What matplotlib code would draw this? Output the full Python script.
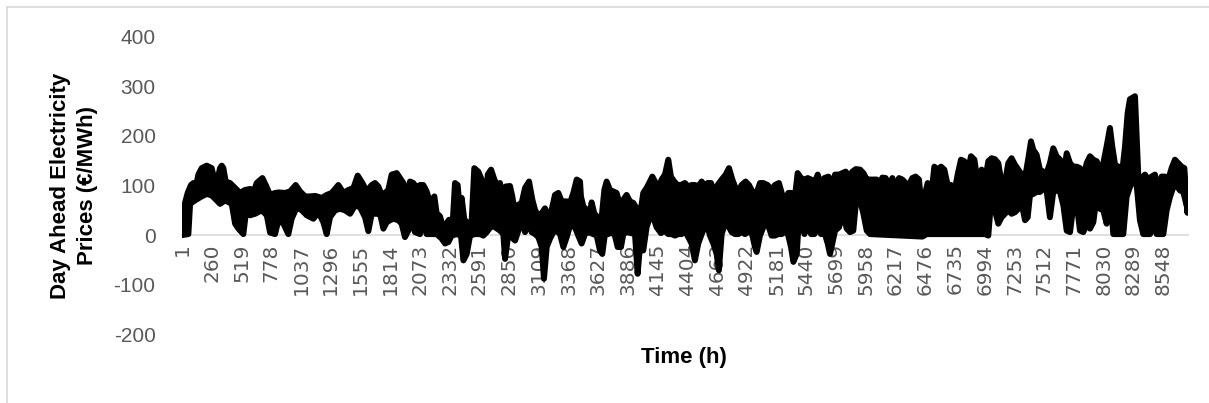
import matplotlib
matplotlib.use("Agg")
import matplotlib.pyplot as plt
from matplotlib.lines import Line2D
import numpy as np

# Hourly day-ahead prices drawn as the black band they form at this scale:
# upper envelope (peaks) and lower envelope (troughs).
peak_hours = [1, 27, 50, 79, 100, 120, 143, 172, 216, 259, 283, 303, 332, 347, 361, 381, 419,
              463, 506, 550, 593, 631, 651, 701, 730, 768, 811, 846, 898, 942, 991, 1029, 1073,
              1116, 1160, 1218, 1261, 1305, 1363, 1407, 1450, 1494, 1531, 1572, 1610, 1653, 1682,
              1711, 1740, 1769, 1798, 1827, 1871, 1900, 1929, 1958, 1987, 2016, 2045, 2074, 2103,
              2132, 2161, 2199, 2219, 2248, 2277, 2306, 2327, 2356, 2379, 2402, 2423, 2437, 2460,
              2495, 2524, 2547, 2582, 2611, 2640, 2664, 2693, 2722, 2742, 2771, 2800, 2820, 2858,
              2878, 2902, 2931, 2960, 2989, 3024, 3053, 3076, 3105, 3134, 3163, 3192, 3221, 3250,
              3279, 3308, 3352, 3381, 3410, 3439, 3468, 3476, 3497, 3526, 3555, 3569, 3592, 3613,
              3633, 3656, 3680, 3700, 3729, 3758, 3787, 3807, 3836, 3874, 3903, 3932, 3961, 3990,
              4019, 4048, 4077, 4098, 4121, 4150, 4179, 4208, 4237, 4260, 4289, 4318, 4347, 4382,
              4411, 4440, 4469, 4498, 4528, 4557, 4580, 4609, 4638, 4667, 4702, 4737, 4766, 4795,
              4818, 4841, 4876, 4911, 4940, 4969, 5007, 5036, 5065, 5102, 5137, 5166, 5201, 5225,
              5254, 5283, 5312, 5341, 5364, 5394, 5423, 5452, 5481, 5510, 5539, 5568, 5597, 5632,
              5661, 5690, 5725, 5754, 5783, 5812, 5841, 5870, 5908, 5937, 5966, 5995, 6024, 6053,
              6082, 6102, 6131, 6160, 6189, 6218, 6247, 6276, 6305, 6334, 6363, 6392, 6421, 6439,
              6468, 6497, 6526, 6555, 6584, 6613, 6642, 6671, 6700, 6729, 6758, 6787, 6816, 6845,
              6874, 6904, 6933, 6967, 6996, 7025, 7054, 7083, 7112, 7141, 7170, 7199, 7228, 7257,
              7287, 7316, 7345, 7374, 7397, 7417, 7446, 7475, 7504, 7533, 7562, 7591, 7620, 7650,
              7679, 7708, 7737, 7766, 7795, 7824, 7853, 7882, 7911, 7940, 7969, 7998, 8027, 8056,
              8085, 8105, 8129, 8158, 8187, 8216, 8239, 8259, 8303, 8332, 8361, 8390, 8419, 8448,
              8477, 8506, 8535, 8564, 8593, 8622, 8651, 8680, 8709, 8733, 8760]
peak_prices = [51, 65, 85, 101, 105, 95, 122, 135, 140, 135, 112, 105, 135, 140, 135, 108, 105,
               95, 85, 91, 93, 91, 105, 115, 101, 81, 85, 86, 85, 88, 101, 88, 78,
               78, 79, 75, 81, 85, 101, 85, 91, 95, 120, 105, 88, 101, 105,
               98, 81, 85, 91, 122, 125, 115, 105, 71, 108, 105, 95, 101, 101,
               88, 65, 78, 44, 38, 14, 24, 31, 14, 105, 101, 44, 75, 31,
               24, 28, 135, 128, 112, 17, 122, 132, 112, 101, 105, 58, 98, 99,
               78, 44, 61, 65, 95, 108, 71, 51, 38, 44, 54, 38, 51, 81,
               85, 68, 68, 65, 85, 112, 108, 78, 58, 51, 44, 66, 44, 38,
               21, 34, 91, 108, 91, 88, 85, 68, 68, 81, 68, 65, 54, 38,
               85, 95, 108, 118, 108, 95, 112, 122, 152, 118, 108, 101, 101, 105,
               98, 101, 101, 98, 108, 98, 105, 105, 85, 101, 112, 122, 135, 112,
               98, 85, 101, 108, 101, 88, 85, 105, 105, 101, 91, 101, 105, 85,
               68, 85, 85, 78, 125, 115, 112, 115, 112, 105, 122, 101, 115, 118,
               101, 122, 122, 125, 128, 118, 128, 133, 132, 125, 112, 112, 112, 112,
               101, 116, 115, 98, 115, 95, 115, 112, 105, 101, 115, 118, 112, 68,
               78, 105, 75, 138, 132, 138, 132, 101, 101, 85, 122, 152, 149, 125,
               159, 152, 105, 132, 108, 149, 155, 153, 145, 105, 105, 145, 155, 142,
               132, 122, 115, 155, 189, 172, 162, 132, 128, 125, 145, 175, 159, 152,
               118, 165, 145, 138, 138, 135, 115, 145, 159, 152, 149, 132, 145, 179,
               216, 179, 142, 138, 118, 179, 246, 274, 280, 118, 115, 122, 112, 118,
               122, 85, 118, 118, 112, 135, 152, 145, 138, 135, 45]

trough_hours = [1, 56, 71, 114, 172, 216, 259, 303, 332, 376, 434, 463, 492, 535, 556, 593, 637,
                695, 739, 768, 811, 840, 884, 927, 956, 1000, 1044, 1087, 1145, 1189, 1232, 1261,
                1290, 1334, 1377, 1421, 1465, 1508, 1552, 1595, 1624, 1653, 1697, 1726, 1755, 1784,
                1813, 1842, 1885, 1914, 1943, 1972, 2001, 2030, 2074, 2103, 2132, 2176, 2219, 2263,
                2292, 2321, 2350, 2393, 2431, 2452, 2481, 2510, 2553, 2597, 2626, 2655, 2698, 2727,
                2771, 2800, 2815, 2844, 2873, 2902, 2931, 2960, 2989, 3018, 3047, 3076, 3105, 3134,
                3154, 3178, 3207, 3236, 3265, 3294, 3323, 3352, 3381, 3424, 3453, 3482, 3511, 3540,
                3584, 3613, 3642, 3662, 3685, 3714, 3743, 3772, 3796, 3825, 3845, 3874, 3912, 3947,
                3970, 3990, 4019, 4048, 4077, 4106, 4135, 4173, 4202, 4237, 4266, 4295, 4324, 4353,
                4382, 4411, 4440, 4469, 4498, 4528, 4571, 4600, 4629, 4658, 4678, 4702, 4731, 4760,
                4789, 4818, 4847, 4876, 4905, 4934, 4963, 4992, 5007, 5036, 5065, 5094, 5137, 5166,
                5195, 5225, 5254, 5283, 5306, 5327, 5356, 5376, 5399, 5423, 5452, 5481, 5510, 5539,
                5568, 5597, 5626, 5646, 5666, 5690, 5725, 5762, 5791, 5820, 5849, 5878, 5908, 5937,
                5966, 5995, 6451, 6488, 6967, 6996, 7025, 7054, 7083, 7112, 7141, 7170, 7199, 7228,
                7257, 7287, 7316, 7345, 7368, 7388, 7417, 7446, 7475, 7504, 7533, 7562, 7591, 7620,
                7650, 7679, 7708, 7737, 7766, 7795, 7824, 7853, 7882, 7911, 7940, 7969, 7998, 8027,
                8056, 8085, 8114, 8143, 8172, 8201, 8230, 8259, 8288, 8317, 8346, 8375, 8404, 8434,
                8463, 8492, 8521, 8550, 8579, 8608, 8637, 8666, 8695, 8724, 8760]
trough_prices = [0, 2, 63, 70, 78, 83, 80, 70, 63, 70, 63, 23, 13, 2, 43, 40, 43,
                 50, 40, 5, 2, 30, 23, 2, 33, 56, 50, 40, 33, 46, 26, 2,
                 36, 50, 53, 50, 43, 60, 56, 36, 8, 43, 43, 43, 13, 26,
                 30, 33, 30, 23, -4, 9, 30, 6, 2, 30, 2, 2, 2, -7,
                 -17, -14, -1, 2, -1, -51, -38, -1, 2, 2, -1, 6, 19, 16,
                 9, 2, -48, 2, -4, -11, 9, 30, 6, 26, 6, 2, -4, -24,
                 -88, -24, -7, 6, 9, 2, -24, -4, 19, 16, -1, -17, 2, 6,
                 2, -1, -31, -38, 2, 2, 6, -1, -24, -24, 2, 6, 4, 2,
                 -78, -24, -31, 16, 36, 36, 16, 4, 9, 2, 2, -1, 2, 2,
                 9, -4, -17, -51, -17, 2, 26, -1, -17, -38, -71, 2, 23, 19,
                 6, 2, 2, 6, 2, 6, 6, -24, -34, -1, 16, 30, -1, -1,
                 2, 2, 9, -1, -24, -54, -38, 36, 43, 2, 30, 2, 2, 16,
                 2, 6, -17, -38, -17, 9, 16, 46, 13, 6, 9, 80, 70, 43,
                 9, 2, -3, 2, 2, 2, -1, 83, 50, 23, 36, 43, 50, 43,
                 46, 53, 63, 30, 36, 80, 83, 87, 87, 93, 90, 36, 87, 90,
                 87, 60, 9, 6, 60, 63, 9, 6, 23, 13, 26, 77, 53, 50,
                 23, 90, 2, 2, 2, 2, 77, 97, 110, 103, 30, 2, 2, 2,
                 23, 2, 2, 2, 50, 77, 97, 100, 90, 87, 53]

tick_hours = list(range(1, 8760, 259))
y_ticks = [-200, -100, 0, 100, 200, 300, 400]

W, H = 1209, 403
fig = plt.figure(figsize=(W / 100, H / 100), dpi=100)
ax = fig.add_axes([182 / W, 68.7 / H, 1005.5 / W, 297.6 / H])

band_x = np.concatenate([peak_hours, trough_hours[::-1]])
band_y = np.concatenate([peak_prices, trough_prices[::-1]])
ax.fill(band_x, band_y, facecolor="black", edgecolor="black", linewidth=4.3,
        joinstyle="round", zorder=3)

# the category axis sits at zero, as in the spreadsheet chart
for side in ["top", "right", "left"]:
    ax.spines[side].set_visible(False)
ax.spines["bottom"].set_position(("data", 0))
ax.spines["bottom"].set_color("#d9d9d9")
ax.spines["bottom"].set_linewidth(1.2)
ax.spines["bottom"].set_zorder(1)

ax.set_xlim(0.5, 8760.5)
ax.set_ylim(-200, 400)
ax.set_yticks(y_ticks)
ax.set_yticklabels([str(v) for v in y_ticks], fontsize=15, color="#595959",
                   family=["Liberation Sans", "DejaVu Sans"])
ax.set_xticks(tick_hours)
ax.set_xticklabels([str(v) for v in tick_hours], fontsize=14.5,
                   color="#595959", family="DejaVu Sans")
ax.tick_params(axis="y", length=0, pad=19)
ax.tick_params(axis="x", length=0, pad=6, labelrotation=90)

title_font = ["Liberation Sans Narrow", "Liberation Sans", "DejaVu Sans"]
fig.text(74 / W, 1 - 185.5 / H, "Day Ahead Electricity\nPrices (\u20ac/MWh)", rotation=90,
         ha="center", va="center", multialignment="center", fontsize=16,
         fontweight="bold", family=title_font, linespacing=1.4)
fig.text(684 / W, 1 - 357 / H, "Time (h)", ha="center", va="center", fontsize=16,
         fontweight="bold", family=title_font)

# light grey chart border (top and left edges are visible in the picture)
fig.add_artist(Line2D([7 / W, 1], [1 - 7 / H, 1 - 7 / H], color="#d9d9d9", lw=1.2,
                      transform=fig.transFigure))
fig.add_artist(Line2D([7 / W, 7 / W], [0, 1 - 7 / H], color="#d9d9d9", lw=1.2,
                      transform=fig.transFigure))

fig.savefig("out.png", dpi=100)
